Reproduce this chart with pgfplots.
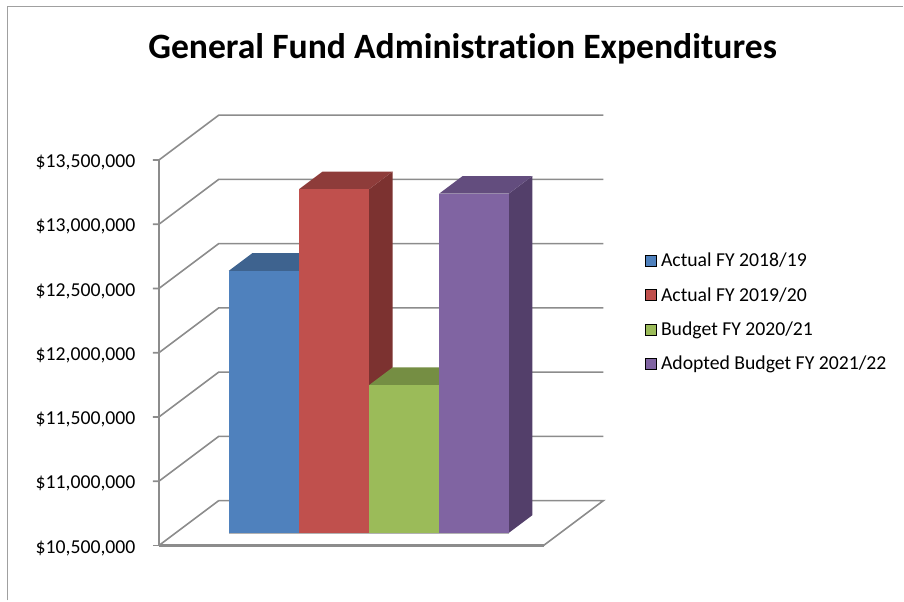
\documentclass[border=0pt]{standalone}
\usepackage{fontspec}
\setmainfont{Carlito}[Ligatures=NoCommon]
\usepackage{pgfplots}
\pgfplotsset{compat=1.18}
\definecolor{gridgray}{HTML}{8C8C8C}
\definecolor{framegray}{HTML}{A0A0A0}
\definecolor{blueF}{HTML}{4F81BD}\definecolor{blueT}{HTML}{3E638F}\definecolor{blueS}{HTML}{335378}
\definecolor{redF}{HTML}{C0504D}\definecolor{redT}{HTML}{8E3C3A}\definecolor{redS}{HTML}{7C3230}
\definecolor{greenF}{HTML}{9BBB59}\definecolor{greenT}{HTML}{758E43}\definecolor{greenS}{HTML}{647A39}
\definecolor{purpleF}{HTML}{8064A2}\definecolor{purpleT}{HTML}{634D7E}\definecolor{purpleS}{HTML}{533F6A}

% One oblique 3D column: #1,#2 = left/right edge, #3 = value in $M, #4-#6 = front, top, side colours
\newcommand{\column}[6]{%
  \addplot3[forget plot,no marks,draw=none,fill=#6] coordinates {(#2,0.28,10.5)(#2,0.673,10.5)(#2,0.673,#3)(#2,0.28,#3)};
  \addplot3[forget plot,no marks,draw=none,fill=#5] coordinates {(#1,0.28,#3)(#2,0.28,#3)(#2,0.673,#3)(#1,0.673,#3)};
  \addplot3[forget plot,no marks,draw=none,fill=#4] coordinates {(#1,0.28,10.5)(#2,0.28,10.5)(#2,0.28,#3)(#1,0.28,#3)};
  \addplot3[forget plot,no marks,draw=black!30,line width=0.8bp] coordinates {(#1,0.28,10.5)(#2,0.28,10.5)};
}
% Wall gridline at one tick value: tick mark, left wall, back wall
\newcommand{\wall}[1]{%
  \addplot3[forget plot,no marks,draw=gridgray,line width=1.6bp] coordinates {(-6,0,#1)(0,0,#1)(0,1,#1)(385,1,#1)};
}

\begin{document}
\begin{tikzpicture}[x=1bp,y=1bp]
  \path (0,0) rectangle (904,601);
  \draw[framegray,line width=1.6bp] (7.5,0) -- (7.5,594.5) -- (904,594.5);
  \node[font=\fontsize{35.8}{42}\bfseries\selectfont,anchor=base] at (463,542.5) {General Fund Administration Expenditures};
  \begin{axis}[
    at={(159bp,55bp)},anchor=south west,
    x={(1bp,0bp)},y={(60bp,45bp)},z={(0bp,128.6bp)},
    xmin=0,xmax=385,ymin=0,ymax=1,zmin=10.5,zmax=13.5,
    clip=false,
    axis lines*=left,
    hide x axis,hide y axis,
    axis line style={gridgray,line width=1.6bp},
    ztick={10.5,11,11.5,12,12.5,13,13.5},
    zticklabels={{\$10,500,000},{\$11,000,000},{\$11,500,000},{\$12,000,000},{\$12,500,000},{\$13,000,000},{\$13,500,000}},
    major tick length=0pt,
    z tick label style={font=\fontsize{19.8}{24}\selectfont,anchor=east,xshift=-20bp,yshift=-2.5bp},
    legend style={at={(axis cs:385,0,10.5)},anchor=west,draw=none,fill=none,
      font=\fontsize{19.8}{24}\selectfont,row sep=15.3bp,xshift=98bp,yshift=233.5bp},
    legend cell align=left,
    legend image code/.code={\fill[#1] (0bp,-5.5bp) rectangle (11bp,5.5bp);\path (14bp,0bp);},
  ]
    \addlegendimage{fill=blueF}\addlegendentry{Actual FY 2018/19}
    \addlegendimage{fill=redF}\addlegendentry{Actual FY 2019/20}
    \addlegendimage{fill=greenF}\addlegendentry{Budget FY 2020/21}
    \addlegendimage{fill=purpleF}\addlegendentry{Adopted Budget FY 2021/22}

    \wall{11}\wall{11.5}\wall{12}\wall{12.5}\wall{13}\wall{13.5}
    % vertical axis line and floor outline
    \addplot3[forget plot,no marks,draw=gridgray,line width=1.6bp] coordinates {(0,0,10.5)(0,0,13.5)};
    \addplot3[forget plot,no marks,draw=gridgray,line width=1.6bp] coordinates {(-6,0,10.5)(0,0,10.5)};
    \addplot3[forget plot,no marks,draw=gridgray,line width=1.6bp] coordinates {(0,1,10.5)(385,1,10.5)(385,0,10.5)};
    \addplot3[forget plot,no marks,draw=gridgray,line width=1.6bp] coordinates {(0,1,10.5)(0,0,10.5)};
    \addplot3[forget plot,no marks,draw=gridgray,line width=2.2bp] coordinates {(0,0,10.5)(385,0,10.5)};

    \column{53.2}{123.5}{12.54}{blueF}{blueT}{blueS}
    \column{123.5}{193.5}{13.175}{redF}{redT}{redS}
    \column{193.5}{263.7}{11.65}{greenF}{greenT}{greenS}
    \column{263.7}{333.4}{13.14}{purpleF}{purpleT}{purpleS}
  \end{axis}
\end{tikzpicture}
\end{document}
